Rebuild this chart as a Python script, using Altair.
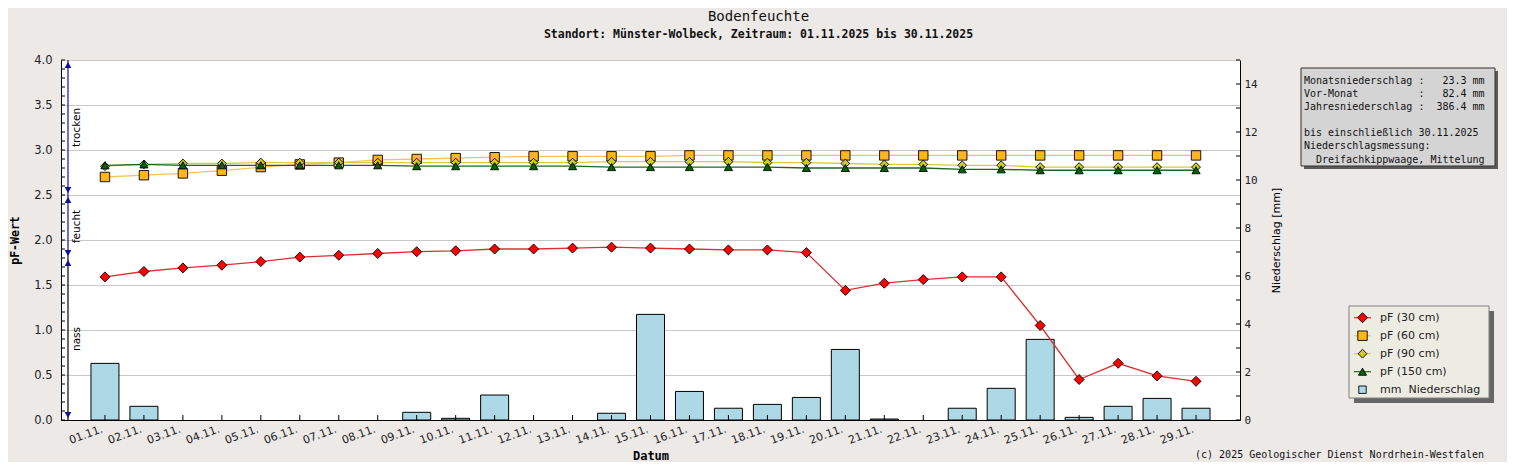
import altair as alt
import pandas as pd

# ---------------- data ----------------
days = list(range(1, 30))

pf30 = [1.59, 1.65, 1.69, 1.72, 1.76, 1.81, 1.83, 1.85, 1.87, 1.88,
        1.90, 1.90, 1.91, 1.92, 1.91, 1.90, 1.89, 1.89, 1.86, 1.44,
        1.52, 1.56, 1.59, 1.59, 1.05, 0.45, 0.63, 0.49, 0.43]
pf60 = [2.70, 2.72, 2.74, 2.77, 2.81, 2.84, 2.86, 2.89, 2.90, 2.91,
        2.92, 2.93, 2.93, 2.93, 2.93, 2.94, 2.94, 2.94, 2.94, 2.94,
        2.94, 2.94, 2.94, 2.94, 2.94, 2.94, 2.94, 2.94, 2.94]
pf90 = [2.82, 2.84, 2.85, 2.85, 2.86, 2.86, 2.86, 2.86, 2.86, 2.86,
        2.86, 2.86, 2.86, 2.87, 2.87, 2.87, 2.87, 2.86, 2.86, 2.85,
        2.84, 2.84, 2.83, 2.83, 2.81, 2.81, 2.81, 2.81, 2.81]
pf150 = [2.83, 2.84, 2.83, 2.83, 2.83, 2.83, 2.83, 2.83, 2.82, 2.82,
         2.82, 2.82, 2.82, 2.81, 2.81, 2.81, 2.81, 2.81, 2.80, 2.80,
         2.80, 2.80, 2.785, 2.785, 2.775, 2.775, 2.775, 2.775, 2.775]
precip_mm = [2.36, 0.57, 0, 0, 0, 0, 0, 0, 0.32, 0.07,
             1.04, 0, 0, 0.28, 4.40, 1.19, 0.49, 0.65, 0.94, 2.94,
             0.04, 0, 0.49, 1.32, 3.36, 0.11, 0.57, 0.90, 0.49]

series_names = ["pF (30 cm)", "pF (60 cm)", "pF (90 cm)", "pF (150 cm)"]
bar_name = "mm\u00a0\u00a0Niederschlag"
legend_names = series_names + [bar_name]

pf_tick_values = [0.0, 0.5, 1.0, 1.5, 2.0, 2.5, 3.0, 3.5, 4.0]
pf_minor_ticks = [i / 10 for i in range(41)]
mm_tick_labels = [0, 2, 4, 6, 8, 10, 12, 14]
mm_minor_ticks = list(range(16))

zone_names = ["trocken", "feucht", "nass"]
zone_top = [4.0, 2.5, 1.8]
zone_bottom = [2.5, 1.8, 0.0]

info_block1 = [
    "Monatsniederschlag :   23.3 mm",
    "Vor-Monat          :   82.4 mm",
    "Jahresniederschlag :  386.4 mm",
]
info_block2 = [
    "bis einschließlich 30.11.2025",
    "Niederschlagsmessung:",
]
info_last = "Dreifachkippwaage, Mittelung"
info_block1 = [s.replace(" ", "\u00a0") for s in info_block1]
copyright_text = "(c) 2025 Geologischer Dienst Nordrhein-Westfalen"

title_text = "Bodenfeuchte"
subtitle_text = "Standort: Münster-Wolbeck, Zeitraum: 01.11.2025 bis 30.11.2025"

# ---------------- styles ----------------
marker_fill = ["#FF0000", "#FFB51F", "#CCCC22", "#006400", "#ADD8E6"]
marker_shape = ["diamond", "square", "diamond", "triangle-up", "square"]
marker_size = [100, 55, 64, 70, 121]
line_colors = ["#DC3030", "#F3C45E", "#D8CC3E", "#1F641F"]
zone_colors = ["#12128E", "#12128E", "#000000"]

W, H = 1179, 360
LH = 13.1

# legend box geometry (pixels, relative to the plot area)
LEG_X, LEG_Y, LEG_W, LEG_H = 1288, 246, 140, 92

# ---------------- tables ----------------
pf_rows = []
for name, vals in zip(series_names, [pf30, pf60, pf90, pf150]):
    for d, v in zip(days, vals):
        pf_rows.append({"day": d, "pf": v, "series": name})
pf_df = pd.DataFrame(pf_rows)
bar_df = pd.DataFrame({"day": days, "mm": precip_mm, "series": [bar_name] * len(days)})
zone_df = pd.DataFrame({"zone": zone_names, "pf": zone_top, "pf2": zone_bottom})
legend_df = pd.DataFrame({"series": legend_names})
one = alt.Data(values=[{}])

# ---------------- encodings ----------------
x_enc = alt.X(
    "day:Q",
    scale=alt.Scale(domain=[0, 30], nice=False, zero=False),
    axis=alt.Axis(
        values=days,
        labelExpr="(datum.value < 10 ? '0' : '') + datum.value + '.11.'",
        labelAngle=340, labelFont="DejaVu Sans", labelFontSize=11,
        labelColor="#222222", labelPadding=3, labelOffset=-5,
        labelOverlap=False, labelFlush=False,
        ticks=False, grid=False, domainColor="black",
        title="Datum", titleFont="DejaVu Sans Mono", titleFontWeight="bold",
        titleFontSize=12, titleColor="black", titleX=589.5, titleY=35,
        titleBaseline="middle", titleAlign="center",
    ),
)

pf_axis = alt.Axis(
    values=pf_tick_values, format=".1f", orient="left", grid=True,
    gridColor="#C8C8C8", ticks=False, domainColor="black",
    labelFont="DejaVu Sans", labelFontSize=11.5, labelColor="#222222",
    labelPadding=9, labelFlush=False,
    title="pF-Wert", titleFont="DejaVu Sans Mono", titleFontWeight="bold",
    titleFontSize=11.5, titleColor="black", titleAngle=270, titleX=-46,
    titleY=180, titleBaseline="middle", titleAlign="center",
)
pf_scale = alt.Scale(domain=[0, 4], nice=False, zero=True)
y_pf = alt.Y("pf:Q", scale=pf_scale, axis=pf_axis)

mm_axis = alt.Axis(
    values=mm_tick_labels, format="d", orient="right", grid=False,
    ticks=False, domainColor="black",
    labelFont="DejaVu Sans Mono", labelFontSize=11, labelColor="#222222",
    labelPadding=4, labelFlush=False,
    title="Niederschlag [mm]", titleFont="DejaVu Sans", titleFontWeight="normal",
    titleFontSize=11, titleColor="black", titleAngle=270, titleX=36,
    titleY=180, titleBaseline="middle", titleAlign="center",
)
y_mm = alt.Y("mm:Q", scale=alt.Scale(domain=[0, 15], nice=False, zero=True), axis=mm_axis)

fill_enc = alt.Fill("series:N", scale=alt.Scale(domain=legend_names, range=marker_fill), legend=None)
shape_enc = alt.Shape("series:N", scale=alt.Scale(domain=legend_names, range=marker_shape), legend=None)
size_enc = alt.Size("series:N", scale=alt.Scale(domain=legend_names, range=marker_size), legend=None)
stroke_enc = alt.Stroke("series:N", scale=alt.Scale(domain=series_names, range=line_colors), legend=None)

# ---------------- precipitation group (right axis) ----------------
bars = alt.Chart(bar_df).transform_filter("datum.mm > 0").mark_bar(
    size=28, stroke="black", strokeWidth=1, opacity=1
).encode(x=x_enc, y=y_mm, fill=fill_enc)
right_ticks = alt.Chart(pd.DataFrame({"mm": mm_minor_ticks})).mark_rule(
    color="black", strokeWidth=1
).encode(y=y_mm, x=alt.value(W - 4), x2=alt.value(W))
mm_group = alt.layer(bars, right_ticks)

# ---------------- pF group (left axis) ----------------
lines = alt.Chart(pf_df).mark_line(strokeWidth=1.3).encode(
    x=x_enc, y=y_pf, stroke=stroke_enc, detail="series:N",
)
points = alt.Chart(pf_df).mark_point(filled=True, stroke="black", strokeWidth=0.9, opacity=1).encode(
    x=x_enc, y=y_pf, fill=fill_enc, shape=shape_enc, size=size_enc,
)
left_ticks = alt.Chart(pd.DataFrame({"pf": pf_minor_ticks})).mark_rule(
    color="black", strokeWidth=1
).encode(y=y_pf, x=alt.value(0), x2=alt.value(4))
x_ticks = alt.Chart(pd.DataFrame({"day": days})).mark_rule(
    color="black", strokeWidth=1
).encode(x=x_enc, y=alt.value(H - 5), y2=alt.value(H))

zone_color = alt.Color("zone:N", scale=alt.Scale(domain=zone_names, range=zone_colors), legend=None)
zone_lines = alt.Chart(zone_df).mark_rule(strokeWidth=1.2).encode(
    y=y_pf, y2="pf2:Q", x=alt.value(7), color=zone_color
)
up_arrows = alt.Chart(zone_df).mark_point(
    shape="triangle-up", filled=True, color="#12128E", size=45, opacity=1, yOffset=5
).encode(y=y_pf, x=alt.value(7))
down_arrows = alt.Chart(zone_df).transform_calculate(pf="datum.pf2").mark_point(
    shape="triangle-down", filled=True, color="#12128E", size=45, opacity=1, yOffset=-5
).encode(y=y_pf, x=alt.value(7))
zone_text = alt.Chart(zone_df).transform_calculate(pf="(datum.pf + datum.pf2) / 2").mark_text(
    angle=270, font="DejaVu Sans", fontSize=10.5, color="black", align="center", baseline="middle"
).encode(y=y_pf, x=alt.value(16), text="zone:N")

info_shadow = alt.Chart(one).mark_rect(color="#5A5A5A", opacity=1).encode(
    x=alt.value(1243), x2=alt.value(1437), y=alt.value(11), y2=alt.value(109)
)
info_box = alt.Chart(one).mark_rect(fill="#D4D4D4", stroke="#333333", strokeWidth=1, opacity=1).encode(
    x=alt.value(1240), x2=alt.value(1434), y=alt.value(8), y2=alt.value(106)
)
info_style = dict(align="left", baseline="top", font="DejaVu Sans Mono", fontSize=10,
                  lineHeight=LH, color="#111111")
info_text1 = alt.Chart(one).mark_text(**info_style).encode(
    x=alt.value(1243), y=alt.value(16), text=alt.value(info_block1))
info_text2 = alt.Chart(one).mark_text(**info_style).encode(
    x=alt.value(1243), y=alt.value(16 + 4 * LH), text=alt.value(info_block2))
info_text3 = alt.Chart(one).mark_text(dx=12, **info_style).encode(
    x=alt.value(1243), y=alt.value(16 + 6 * LH), text=alt.value(info_last))

copyright_mark = alt.Chart(one).mark_text(
    align="right", baseline="middle", font="DejaVu Sans Mono", fontSize=10, color="#111111"
).encode(x=alt.value(1423), y=alt.value(395), text=alt.value(copyright_text))

pf_group = alt.layer(
    lines, points, left_ticks, x_ticks, zone_lines, up_arrows, down_arrows, zone_text,
    info_shadow, info_box, info_text1, info_text2, info_text3, copyright_mark,
)

# ---------------- legend group (own row scale) ----------------
y_leg = alt.Y("series:N", scale=alt.Scale(type="point", domain=legend_names,
                                          range=[LEG_Y + 11.7, LEG_Y + 11.7 + 4 * 18], padding=0),
              axis=None, sort=legend_names)
leg_shadow = alt.Chart(one).mark_rect(color="#666666", opacity=1).encode(
    x=alt.value(LEG_X + 5), x2=alt.value(LEG_X + LEG_W + 5),
    y=alt.value(LEG_Y + 5), y2=alt.value(LEG_Y + LEG_H + 5))
leg_box = alt.Chart(one).mark_rect(fill="#EDECE2", stroke="#808080", strokeWidth=1, opacity=1).encode(
    x=alt.value(LEG_X), x2=alt.value(LEG_X + LEG_W),
    y=alt.value(LEG_Y), y2=alt.value(LEG_Y + LEG_H))
leg_lines = alt.Chart(legend_df).transform_filter(
    alt.FieldOneOfPredicate(field="series", oneOf=series_names)
).mark_rule(strokeWidth=1.2).encode(
    y=y_leg, x=alt.value(LEG_X + 5), x2=alt.value(LEG_X + 22), stroke=stroke_enc)
leg_symbols = alt.Chart(legend_df).mark_point(filled=True, stroke="black", strokeWidth=0.9, opacity=1).encode(
    y=y_leg, x=alt.value(LEG_X + 13.5), fill=fill_enc, shape=shape_enc, size=size_enc)
leg_labels = alt.Chart(legend_df).mark_text(
    align="left", baseline="middle", font="DejaVu Sans", fontSize=11, color="#222222"
).encode(y=y_leg, x=alt.value(LEG_X + 31), text="series:N")
legend_group = alt.layer(leg_shadow, leg_box, leg_lines, leg_symbols, leg_labels)

chart = (
    alt.layer(mm_group, pf_group, legend_group)
    .resolve_scale(y="independent")
    .properties(
        width=W, height=H,
        background="#ECE9E7",
        padding={"left": 53, "top": 52, "right": 267, "bottom": 42},
        autosize=alt.AutoSizeParams(type="none"),
        title=alt.TitleParams(
            text=title_text, subtitle=subtitle_text, anchor="middle", frame="group",
            dx=108, offset=14, font="DejaVu Sans Mono", fontSize=14, fontWeight="normal",
            color="#111111", subtitleFont="DejaVu Sans Mono", subtitleFontSize=11.5,
            subtitleFontWeight="bold", subtitleColor="#111111", subtitlePadding=5,
        ),
    )
    .configure_view(fill="white", stroke="transparent")
)

chart.save("out.html", embed_options={"renderer": "svg", "actions": False})
